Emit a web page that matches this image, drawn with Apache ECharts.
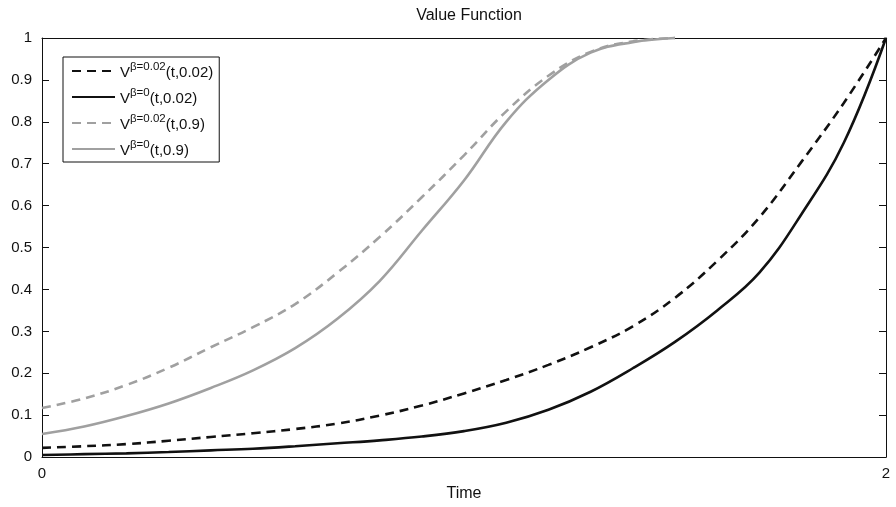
<!DOCTYPE html>
<html>
<head>
<meta charset="utf-8">
<script src="https://cdn.jsdelivr.net/npm/echarts@6/dist/echarts.min.js"></script>
<style>
  html, body { margin: 0; padding: 0; background: #fff; }
  #chart { width: 896px; height: 507px; }
</style>
</head>
<body>
<div id="chart"></div>
<script>
// Time grid for the value function curves
var time = [0, 0.1, 0.2, 0.3, 0.4, 0.5, 0.6, 0.7, 0.8, 0.9, 1.0,
            1.1, 1.2, 1.3, 1.4, 1.5, 1.6, 1.7, 1.8, 1.9, 2.0];

// V^{beta=0.02}(t, 0.02)
var vBeta002Low = [0.022, 0.026, 0.031, 0.039, 0.048, 0.057, 0.067, 0.080, 0.099, 0.123, 0.152,
                   0.184, 0.220, 0.262, 0.312, 0.380, 0.468, 0.572, 0.705, 0.845, 1.0];
// V^{beta=0}(t, 0.02)
var vBeta0Low = [0.005, 0.007, 0.009, 0.012, 0.016, 0.020, 0.026, 0.033, 0.040, 0.049, 0.062,
                 0.082, 0.113, 0.156, 0.212, 0.275, 0.350, 0.440, 0.580, 0.750, 1.0];
// V^{beta=0.02}(t, 0.9)  (reaches 1 at about t = 1.5)
var timeHigh = [0, 0.1, 0.2, 0.3, 0.4, 0.5, 0.6, 0.7, 0.8, 0.9, 1.0,
                1.1, 1.2, 1.3, 1.4, 1.5];
var vBeta002High = [0.117, 0.140, 0.172, 0.213, 0.262, 0.310, 0.365, 0.440, 0.525, 0.620, 0.720,
                    0.825, 0.910, 0.967, 0.992, 1.0];
// V^{beta=0}(t, 0.9)
var vBeta0High = [0.055, 0.073, 0.098, 0.128, 0.165, 0.207, 0.260, 0.330, 0.420, 0.540, 0.660,
                  0.800, 0.900, 0.965, 0.990, 1.0];

// Legend pieces: superscript and argument list
var legendSup = ['β=0.02', 'β=0', 'β=0.02', 'β=0'];
var legendArg = ['(t,0.02)', '(t,0.02)', '(t,0.9)', '(t,0.9)'];
var seriesNames = ['s1', 's2', 's3', 's4'];

function pairs(xs, ys) {
  return xs.map(function (x, i) { return [x, ys[i]]; });
}

var FONT = '"Liberation Sans", Arial, Helvetica, sans-serif';
var BLACK = '#111111';
var GRAY = '#a0a0a0';

function lineSeries(name, data, color, dashed) {
  return {
    name: name,
    type: 'line',
    data: data,
    smooth: 0.4,
    symbol: 'none',
    showSymbol: false,
    clip: false,
    lineStyle: { color: color, width: 2.6, type: dashed ? [9, 6] : 'solid' },
    itemStyle: { color: color },
    emphasis: { disabled: true }
  };
}

var boxAxisLine = { show: true, onZero: false, lineStyle: { color: '#111', width: 1 } };

var chart = echarts.init(document.getElementById('chart'), null, { renderer: 'canvas' });

chart.setOption({
  animation: false,
  backgroundColor: '#ffffff',
  title: {
    text: 'Value Function',
    left: 464,
    textAlign: 'center',
    top: 3,
    textStyle: { fontFamily: FONT, fontSize: 16, fontWeight: 'normal', color: '#111' }
  },
  grid: { left: 42, right: 10, top: 38, bottom: 38, containLabel: false },
  legend: {
    orient: 'vertical',
    left: 63,
    top: 57,
    data: seriesNames,
    itemWidth: 43,
    itemHeight: 14,
    itemGap: 7,
    padding: [4, 6, 4, 8],
    borderColor: '#111',
    borderWidth: 1,
    backgroundColor: '#fff',
    selectedMode: false,
    itemStyle: { opacity: 0 },
    formatter: function (name) {
      var i = seriesNames.indexOf(name);
      return '{v|V}{sup|' + legendSup[i] + '}{v|' + legendArg[i] + '}';
    },
    textStyle: {
      fontFamily: FONT,
      color: '#111',
      rich: {
        v: { fontFamily: FONT, fontSize: 15, color: '#111', padding: [3, 0, 0, 0] },
        sup: { fontFamily: FONT, fontSize: 11.5, color: '#111', padding: [0, 0, 8, 0] }
      }
    }
  },
  xAxis: [{
    type: 'value',
    min: 0,
    max: 2,
    interval: 2,
    name: 'Time',
    nameLocation: 'middle',
    nameGap: 26,
    nameTextStyle: { fontFamily: FONT, fontSize: 16, color: '#111' },
    axisLine: boxAxisLine,
    axisTick: { show: false },
    axisLabel: { fontFamily: FONT, fontSize: 15, color: '#111', margin: 9 },
    splitLine: { show: false }
  }, {
    type: 'value',
    position: 'top',
    min: 0,
    max: 2,
    interval: 2,
    axisLine: boxAxisLine,
    axisTick: { show: false },
    axisLabel: { show: false },
    splitLine: { show: false }
  }],
  yAxis: [{
    type: 'value',
    min: 0,
    max: 1,
    interval: 0.1,
    axisLine: boxAxisLine,
    axisTick: { show: true, inside: true, length: 7, lineStyle: { color: '#111' } },
    axisLabel: { fontFamily: FONT, fontSize: 15, color: '#111', margin: 10 },
    splitLine: { show: false }
  }, {
    type: 'value',
    position: 'right',
    min: 0,
    max: 1,
    interval: 0.1,
    axisLine: boxAxisLine,
    axisTick: { show: true, inside: true, length: 7, lineStyle: { color: '#111' } },
    axisLabel: { show: false },
    splitLine: { show: false }
  }],
  series: [
    lineSeries('s1', pairs(time, vBeta002Low), BLACK, true),
    lineSeries('s2', pairs(time, vBeta0Low), BLACK, false),
    lineSeries('s3', pairs(timeHigh, vBeta002High), GRAY, true),
    lineSeries('s4', pairs(timeHigh, vBeta0High), GRAY, false)
  ]
});
</script>
</body>
</html>
